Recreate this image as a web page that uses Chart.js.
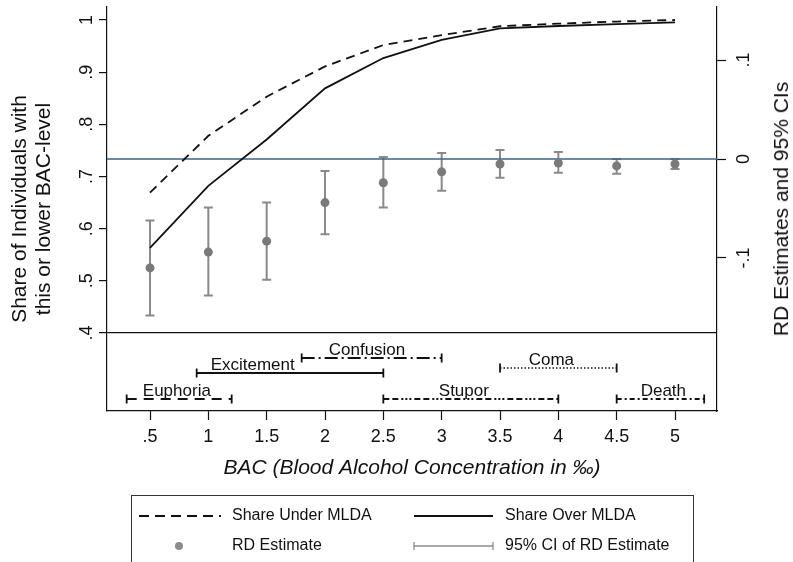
<!DOCTYPE html>
<html>
<head>
<meta charset="utf-8">
<script src="https://cdn.jsdelivr.net/npm/chart.js@4.4.1/dist/chart.umd.min.js"></script>
<style>
body{margin:0;background:#fff;overflow:hidden;font-family:'Liberation Sans',Arial,sans-serif;color:#111}
#wrap{position:relative;width:793px;height:562px;overflow:hidden}
#wrap canvas{position:absolute;left:0;top:0}
#rtitle{position:absolute;left:781px;top:209px;font-size:21px;white-space:nowrap;transform:translate(-50%,-50%) rotate(-90deg)}
#legend{position:absolute;left:131px;top:495px;width:563px;height:80px;border:1px solid #333;box-sizing:border-box}
#legend svg{position:absolute;left:0;top:0}
.lg{position:absolute;font-size:16px;line-height:18px;white-space:nowrap}
</style>
</head>
<body>
<div id="wrap">
  <canvas id="chart" width="793" height="562"></canvas>
  <div id="rtitle">RD Estimates and 95% CIs</div>
  <div id="legend">
    <svg width="563" height="80">
      <line x1="7" y1="20" x2="89" y2="20" stroke="#111" stroke-width="2" stroke-dasharray="10 6"/>
      <line x1="282" y1="20" x2="361" y2="20" stroke="#111" stroke-width="2"/>
      <circle cx="47" cy="50" r="4" fill="#8c8c8c"/>
      <path d="M282 50H361M282 46V54M361 46V54" stroke="#8c8c8c" stroke-width="1.3" fill="none"/>
    </svg>
    <span class="lg" style="left:100px;top:10px">Share Under MLDA</span>
    <span class="lg" style="left:373px;top:10px">Share Over MLDA</span>
    <span class="lg" style="left:100px;top:40px">RD Estimate</span>
    <span class="lg" style="left:373px;top:40px">95% CI of RD Estimate</span>
  </div>
</div>
<script>
// BAC levels (per mille)
var bac=[0.5,1,1.5,2,2.5,3,3.5,4,4.5,5];
var shareUnder=[0.669,0.778,0.853,0.911,0.952,0.971,0.988,0.993,0.997,1.0];
var shareOver=[0.563,0.682,0.771,0.869,0.927,0.962,0.984,0.9885,0.992,0.9955];
var rdEst=[-0.110,-0.094,-0.083,-0.044,-0.024,-0.013,-0.005,-0.004,-0.007,-0.005];
var ciLow=[-0.158,-0.138,-0.122,-0.076,-0.049,-0.032,-0.019,-0.014,-0.015,-0.010];
var ciHigh=[-0.062,-0.049,-0.044,-0.012,0.002,0.006,0.009,0.007,0.000,0.000];

// intoxication stages: range in BAC, row level (left axis units), label x
var stageNames=['Euphoria','Excitement','Confusion','Stupor','Coma','Death'];
var stageFrom=[0.3,0.9,1.8,2.5,3.5,4.5];
var stageTo=[1.2,2.5,3.0,4.0,4.5,5.25];
var stageLevel=[0.2735,0.3233,0.3521,0.2735,0.3329,0.2735];
var stageLabelX=[0.73,1.38,2.36,3.19,3.94,4.9];

var xTicks=[0.5,1,1.5,2,2.5,3,3.5,4,4.5,5];
var yLTicks=[0.4,0.5,0.6,0.7,0.8,0.9,1];
var yRTicks=[-0.1,0,0.1];

var stageDash=[[10,7],[],[13,4,2,4],[6,3,6,3,2,2,2,2,2,3],[1.5,2],[5,3,2,3]];
var stageWidth=[2,2,2,2,1.5,2];

function fmt(v){
  var s=String(Math.round(v*1000)/1000);
  return s.replace(/^0\./,'.').replace(/^-0\./,'-.');
}

Chart.defaults.font.family="'Liberation Sans', Arial, sans-serif";
Chart.defaults.color='#111';

var datasets=[];
datasets.push({label:'zero',data:[{x:0,y:0},{x:6,y:0}],yAxisID:'yR',borderColor:'#3d6385',borderWidth:1.3,pointRadius:0,order:6});
for(var k=0;k<stageNames.length;k++){
  datasets.push({label:stageNames[k],yAxisID:'yL',
    data:[{x:stageFrom[k],y:stageLevel[k]},{x:stageTo[k],y:stageLevel[k]}],
    borderColor:'#111',borderWidth:stageWidth[k],borderDash:stageDash[k],
    pointStyle:'line',rotation:90,pointRadius:4.5,pointBorderColor:'#111',pointBorderWidth:1.8,order:4});
}
datasets.push({label:'Share Under MLDA',yAxisID:'yL',data:bac.map(function(x,i){return {x:x,y:shareUnder[i]};}),
  borderColor:'#111',borderWidth:1.8,borderDash:[9,6],pointRadius:0,tension:0,order:2});
datasets.push({label:'Share Over MLDA',yAxisID:'yL',data:bac.map(function(x,i){return {x:x,y:shareOver[i]};}),
  borderColor:'#111',borderWidth:1.8,pointRadius:0,tension:0,order:2});
datasets.push({label:'RD Estimate',yAxisID:'yR',data:bac.map(function(x,i){return {x:x,y:rdEst[i]};}),
  showLine:false,pointRadius:4.5,pointBackgroundColor:'#7a7a7a',pointBorderColor:'#7a7a7a',pointBorderWidth:0,order:1});

var overlay={
  id:'overlay',
  beforeDatasetsDraw:function(chart){
    var ctx=chart.ctx,xs=chart.scales.x,yr=chart.scales.yR;
    ctx.save();
    ctx.strokeStyle='#8a8a8a';ctx.lineWidth=2;
    for(var i=0;i<bac.length;i++){
      var px=xs.getPixelForValue(bac[i]);
      var y1=yr.getPixelForValue(ciLow[i]),y2=yr.getPixelForValue(ciHigh[i]);
      ctx.beginPath();
      ctx.moveTo(px,y1);ctx.lineTo(px,y2);
      ctx.moveTo(px-4.5,y1);ctx.lineTo(px+4.5,y1);
      ctx.moveTo(px-4.5,y2);ctx.lineTo(px+4.5,y2);
      ctx.stroke();
    }
    ctx.restore();
  },
  afterDatasetsDraw:function(chart){
    var ctx=chart.ctx,xs=chart.scales.x,yl=chart.scales.yL;
    ctx.save();
    ctx.fillStyle='#111';ctx.font="17px 'Liberation Sans', Arial, sans-serif";
    ctx.textAlign='center';ctx.textBaseline='alphabetic';
    for(var i=0;i<stageNames.length;i++){
      ctx.fillText(stageNames[i],xs.getPixelForValue(stageLabelX[i]),yl.getPixelForValue(stageLevel[i])-3);
    }
    ctx.restore();
  }
};

new Chart(document.getElementById('chart'),{
  type:'line',
  data:{datasets:datasets},
  plugins:[overlay],
  options:{
    responsive:false,animation:false,
    layout:{padding:{left:0,right:0,top:7,bottom:0}},
    plugins:{legend:{display:false},tooltip:{enabled:false}},
    scales:{
      x:{type:'linear',min:0.1314,max:5.36,
        afterBuildTicks:function(s){s.ticks=xTicks.map(function(v){return {value:v};});},
        afterFit:function(s){s.height=151;s.paddingLeft=0;s.paddingRight=0;},
        ticks:{callback:fmt,font:{size:18},padding:6,maxRotation:0,autoSkip:false},
        grid:{drawOnChartArea:false,tickLength:9,tickColor:'#111',tickWidth:1.2},
        border:{color:'#111',width:1.2},
        title:{display:true,text:'BAC (Blood Alcohol Concentration in \u2030)',font:{size:21,style:'italic'},padding:{top:0,bottom:81}}
      },
      yL:{type:'linear',position:'left',min:0.2505,max:1.0249,
        afterBuildTicks:function(s){s.ticks=yLTicks.map(function(v){return {value:v};});},
        afterFit:function(s){s.width=107;s.paddingTop=0;s.paddingBottom=0;},
        ticks:{callback:fmt,font:{size:18},minRotation:90,maxRotation:90,crossAlign:'center',padding:4,autoSkip:false},
        grid:{color:function(c){return c.tick&&Math.abs(c.tick.value-0.4)<1e-9?'#111':'rgba(0,0,0,0)';},
          lineWidth:1.2,tickColor:'#111',tickLength:8,tickWidth:1.2},
        border:{color:'#111',width:1.2},
        title:{display:true,text:['Share of Individuals with','this or lower BAC-level'],font:{size:21,lineHeight:1.15},padding:{top:8,bottom:0}}
      },
      yR:{type:'linear',position:'right',min:-0.25455,max:0.15354,
        afterBuildTicks:function(s){s.ticks=yRTicks.map(function(v){return {value:v};});},
        afterFit:function(s){s.width=76;s.paddingTop=0;s.paddingBottom=0;},
        ticks:{callback:fmt,font:{size:18},minRotation:90,maxRotation:90,crossAlign:'center',padding:8,autoSkip:false},
        grid:{drawOnChartArea:false,tickColor:'#111',tickLength:9,tickWidth:1.2},
        border:{color:'#111',width:1.2}
      }
    }
  }
});
</script>
</body>
</html>
